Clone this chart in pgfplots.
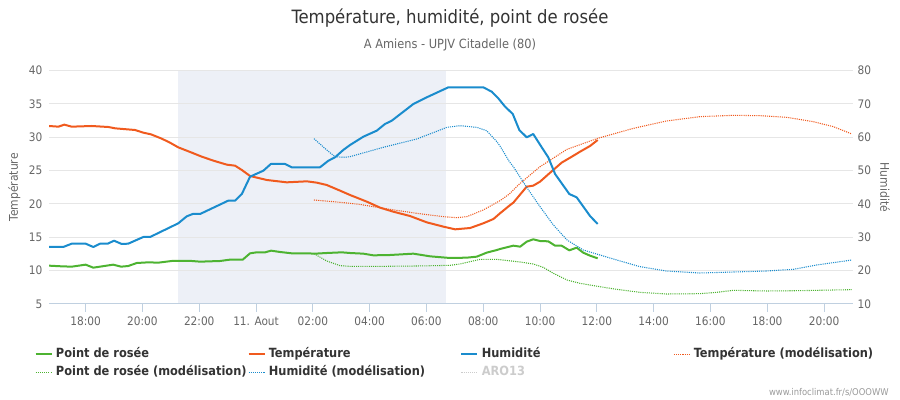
\documentclass[border=0pt]{standalone}
\usepackage{fontspec}
\setmainfont{DejaVu Sans Condensed}
\usepackage{pgfplots}
\pgfplotsset{compat=1.18}

\definecolor{ctemp}{HTML}{F05A1E}
\definecolor{chum}{HTML}{1A8CCD}
\definecolor{cdew}{HTML}{4DB331}
\definecolor{cband}{HTML}{EDF0F7}
\definecolor{cgrid}{HTML}{E6E6E6}
\definecolor{caxis}{HTML}{C0D0E0}
\definecolor{ctick}{HTML}{666666}
\definecolor{ctitle}{HTML}{333333}
\definecolor{caro}{HTML}{CCCCCC}

% 1px = 0.75pt ; picture 900x400 px
\pgfplotsset{
  base/.style={scale only axis, width=603pt, height=175pt,
    at={(36.75pt,72pt)}, anchor=south west,
    xmin=-7.29, xmax=21.02,
    /pgf/number format/assume math mode=true},
  obs/.style={line width=1.5pt, line join=round},
  mod/.style={line width=0.8pt, dash pattern=on 0.8pt off 0.8pt},
}

\begin{document}
\begin{tikzpicture}
\path[use as bounding box] (0,0) rectangle (675pt,300pt);

\node[text=ctitle, font=\fontsize{13.75}{15}\selectfont] at (337.5pt,286.5pt) {Température, humidité, point de rosée};
\node[text=ctick, font=\fontsize{9.5}{11}\selectfont] at (337.5pt,266.5pt) {A Amiens - UPJV Citadelle (80)};
\node[anchor=east, text=gray!80, font=\fontsize{7}{8}\selectfont] at (670pt,6pt) {www.infoclimat.fr/s/OOOWW};

% night band
\begin{axis}[base, ymin=5, ymax=40, hide axis]
\addplot[fill=cband, draw=none] coordinates {(-2.76,5) (6.68,5) (6.68,40) (-2.76,40)} -- cycle;
\end{axis}

% temperature / dew point (left axis)
\begin{axis}[base, ymin=5, ymax=40,
  axis x line*=bottom, axis y line*=left,
  x axis line style={caxis, line width=0.75pt, -},
  y axis line style={draw=none},
  xtick={-6,-4,...,20},
  xticklabels={18:00,20:00,22:00,11. Aout,02:00,04:00,06:00,08:00,10:00,12:00,14:00,16:00,18:00,20:00},
  x tick style={caxis, line width=0.75pt},
  y tick style={draw=none},
  tick align=outside, major tick length=6pt,
  ytick={5,10,...,40},
  ymajorgrids, grid style={cgrid, line width=0.75pt},
  tick label style={text=ctick, font=\fontsize{8.8}{10}\selectfont},
  yticklabel style={xshift=4.5pt},
  ylabel={Température},
  ylabel style={at={(axis description cs:-0.0432,0.5)}, anchor=center, text=ctick, font=\fontsize{9}{10}\selectfont},
]
% Temperature (modelisation)
\addplot[mod, ctemp] coordinates {
(2.04,20.6)(2.72,20.35)(3.31,20.1)(3.64,19.95)(4.48,19.35)(5.66,18.6)(6.60,18.1)(7.07,17.95)(7.42,18.1)(8.00,19.1)(8.59,20.5)(8.92,21.5)(9.30,23.1)(10.0,25.6)(10.95,28.2)(12.03,29.85)(13.29,31.35)(14.45,32.45)(15.63,33.1)(16.81,33.3)(17.75,33.25)(18.69,33.0)(19.62,32.35)(20.33,31.6)(20.98,30.5)
};
% Point de rosee (modelisation)
\addplot[mod, cdew] coordinates {
(2.04,12.55)(2.49,11.45)(2.96,10.75)(3.31,10.65)(4.48,10.65)(5.66,10.7)(6.83,10.8)(7.18,11.0)(7.89,11.7)(8.48,11.7)(9.30,11.3)(9.76,11.0)(10.11,10.5)(10.47,9.6)(10.95,8.6)(11.41,8.1)(12.03,7.65)(12.70,7.2)(13.52,6.75)(14.45,6.5)(15.63,6.55)(16.22,6.75)(16.81,7.05)(17.98,6.95)(19.15,7.0)(20.33,7.1)(20.98,7.15)
};
% Point de rosee
\addplot[obs, cdew] coordinates {
(-7.29,10.75)(-6.84,10.65)(-6.49,10.6)(-6.00,10.9)(-5.73,10.45)(-5.03,10.9)(-4.75,10.6)(-4.50,10.7)(-4.20,11.15)(-3.79,11.25)(-3.44,11.2)(-2.97,11.45)(-2.26,11.45)(-1.97,11.35)(-1.27,11.45)(-0.92,11.65)(-0.47,11.65)(-0.21,12.6)(0.02,12.75)(0.32,12.75)(0.53,13.0)(0.85,12.8)(1.26,12.6)(1.79,12.6)(2.08,12.55)(2.49,12.65)(3.02,12.75)(3.31,12.65)(3.78,12.55)(4.13,12.3)(4.72,12.35)(5.54,12.55)(6.13,12.15)(6.83,11.9)(7.42,11.95)(7.77,12.1)(8.12,12.7)(8.48,13.1)(8.59,13.25)(9.06,13.75)(9.30,13.6)(9.53,14.35)(9.76,14.7)(10.0,14.45)(10.29,14.4)(10.53,13.75)(10.76,13.75)(11.03,13.05)(11.29,13.45)(11.52,12.7)(11.76,12.25)(12.03,11.85)
};
% Temperature
\addplot[obs, ctemp] coordinates {
(-7.29,31.7)(-6.96,31.6)(-6.75,31.9)(-6.49,31.6)(-5.79,31.7)(-5.20,31.55)(-4.96,31.35)(-4.26,31.1)(-3.97,30.7)(-3.70,30.45)(-3.32,29.8)(-3.03,29.2)(-2.74,28.5)(-2.26,27.7)(-1.91,27.1)(-1.50,26.5)(-1.03,25.9)(-0.74,25.75)(-0.50,25.1)(-0.21,24.2)(0.38,23.6)(1.08,23.25)(1.79,23.4)(2.14,23.2)(2.49,22.85)(2.96,22.0)(3.31,21.35)(3.90,20.35)(4.37,19.45)(4.83,18.85)(5.42,18.2)(6.01,17.25)(6.60,16.6)(7.01,16.2)(7.54,16.4)(8.00,17.1)(8.36,17.75)(8.59,18.6)(8.92,19.75)(9.06,20.2)(9.53,22.6)(9.76,22.75)(10.0,23.35)(10.29,24.45)(10.76,26.2)(11.12,27.1)(11.41,27.85)(11.76,28.7)(12.03,29.6)
};
\end{axis}

% humidity (right axis)
\begin{axis}[base, ymin=10, ymax=80,
  axis x line=none, axis y line*=right,
  y axis line style={draw=none},
  y tick style={draw=none},
  ytick={10,20,...,80},
  tick label style={text=ctick, font=\fontsize{8.8}{10}\selectfont},
  yticklabel style={anchor=west, xshift=0pt},
  ylabel={Humidité},
  ylabel style={at={(axis description cs:1.0398,0.5)}, anchor=center, rotate=180, text=ctick, font=\fontsize{9}{10}\selectfont},
  legend columns=4,
  legend style={at={(axis description cs:-0.0179,-0.19)}, anchor=north west,
    draw=none, fill=none, inner sep=0pt, outer sep=0pt,
    font=\bfseries\fontsize{9.5}{10}\selectfont, text=ctitle,
    row sep=4.5pt, column sep=0pt,
    nodes={inner xsep=2.5pt, inner ysep=0pt, text height=7pt, text depth=2pt}},
  legend cell align=left,
  legend image code/.code={\draw[#1] (0pt,0pt) -- (12pt,0pt);},
]
\addplot[mod, chum, forget plot] coordinates {
(2.04,59.6)(2.49,56.2)(2.78,54.2)(3.07,54.0)(3.31,54.2)(3.64,55.0)(4.48,57.0)(5.66,59.5)(6.72,63.0)(7.18,63.5)(7.77,63.0)(8.12,62.0)(8.48,58.7)(8.59,57.4)(8.92,52.7)(9.06,51.2)(9.53,45.0)(10.0,39.2)(10.47,33.7)(10.95,29.2)(11.52,26.2)(12.03,24.9)(12.70,23.2)(13.52,21.2)(14.45,19.9)(15.63,19.3)(16.81,19.6)(17.98,19.9)(18.92,20.4)(19.74,21.7)(20.98,23.2)
};
\addplot[obs, chum, forget plot] coordinates {
(-7.29,27.1)(-6.79,27.1)(-6.49,28.1)(-6.00,28.1)(-5.73,27.1)(-5.49,28.1)(-5.22,28.1)(-5.00,29.0)(-4.73,28.0)(-4.50,28.1)(-3.97,30.1)(-3.73,30.1)(-2.74,34.2)(-2.44,36.3)(-2.23,37.0)(-1.97,37.0)(-0.98,41.0)(-0.74,41.0)(-0.50,43.0)(-0.21,48.2)(0.26,50.0)(0.52,52.0)(1.02,52.0)(1.26,51.0)(2.25,51.0)(2.55,53.0)(2.78,54.0)(3.07,56.2)(3.31,57.7)(3.78,60.2)(4.25,62.0)(4.54,64.0)(4.78,65.0)(5.54,70.0)(6.01,72.0)(6.77,75.0)(8.00,75.0)(8.30,73.7)(8.53,71.7)(8.77,69.2)(9.04,67.0)(9.27,62.2)(9.53,60.0)(9.76,61.0)(10.06,57.0)(10.29,54.0)(10.53,49.0)(11.03,43.0)(11.29,42.0)(11.76,36.4)(12.03,34.0)
};
\addlegendimage{obs, cdew}
\addlegendentry{\makebox[141.2pt][l]{Point de rosée}}
\addlegendimage{obs, ctemp}
\addlegendentry{\makebox[141.2pt][l]{Température}}
\addlegendimage{obs, chum}
\addlegendentry{\makebox[141.2pt][l]{Humidité}}
\addlegendimage{mod, ctemp}
\addlegendentry{\makebox[141.2pt][l]{Température (modélisation)}}
\addlegendimage{mod, cdew}
\addlegendentry{\makebox[141.2pt][l]{Point de rosée (modélisation)}}
\addlegendimage{mod, chum}
\addlegendentry{\makebox[141.2pt][l]{Humidité (modélisation)}}
\addlegendimage{mod, caro}
\addlegendentry{\makebox[141.2pt][l]{\textcolor{caro}{ARO13}}}
\end{axis}
\end{tikzpicture}
\end{document}
